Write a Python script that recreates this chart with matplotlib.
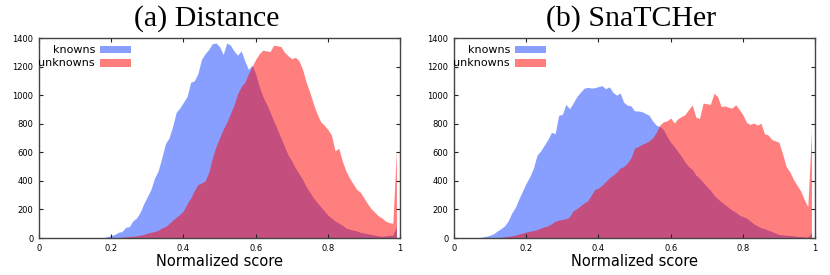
import numpy as np
import matplotlib
matplotlib.use("Agg")
import matplotlib.pyplot as plt
from matplotlib.patches import Rectangle

###################
# Histogram data  #
###################
bins = np.round(np.arange(100) * 0.01, 2)  # left edge of each 0.01 score bin

# (a) Distance
dist_known = [0] * 18 + [
    3, 10, 18, 25, 40, 45, 75, 80, 120, 140,            # 0.18 - 0.27
    180, 240, 290, 340, 420, 470, 560, 660, 700, 780,   # 0.28 - 0.37
    880, 910, 950, 990, 1090, 1100, 1150, 1250, 1290, 1320,
    1360, 1365, 1340, 1285, 1365, 1350, 1310, 1280, 1310, 1240,
    1180, 1210, 1150, 1060, 990, 940, 880, 820, 760, 700,
    640, 580, 540, 490, 450, 410, 360, 320, 280, 250,
    220, 190, 160, 140, 120, 105, 90, 70, 62, 55,
    50, 40, 36, 30, 25, 20, 15, 12, 15, 18,
    20, 80,
]
dist_unknown = [0] * 22 + [
    3, 5, 8, 10, 12, 15, 20, 25, 35, 40,                # 0.22 - 0.31
    45, 55, 70, 80, 100, 125, 145, 165, 190, 240,
    280, 330, 375, 385, 400, 460, 560, 640, 700, 760,
    810, 870, 930, 1010, 1060, 1090, 1150, 1200, 1250, 1290,
    1315, 1310, 1305, 1350, 1345, 1340, 1300, 1275, 1255, 1265,
    1240, 1180, 1090, 1020, 940, 870, 814, 790, 760, 720,
    610, 628, 540, 470, 420, 380, 340, 320, 280, 240,
    205, 180, 155, 140, 118, 108, 103, 620,
]

# (b) SnaTCHer
snat_known = [0] * 7 + [
    3, 8, 12, 20, 30, 50, 65, 85, 120, 175,             # 0.07 - 0.16
    215, 275, 330, 385, 430, 490, 580, 610, 650, 690,
    740, 730, 860, 865, 935, 905, 945, 990, 1020, 1048,
    1055, 1050, 1052, 1060, 1066, 1045, 1058, 1020, 1000, 1015,
    950, 930, 925, 890, 889, 885, 872, 860, 820, 790,
    780, 760, 710, 670, 640, 605, 570, 530, 500, 480,
    440, 418, 390, 360, 335, 300, 275, 254, 235, 215,
    195, 180, 161, 150, 140, 120, 100, 85, 72, 65,
    55, 45, 35, 25, 22, 20, 18, 15, 12, 10,
    8, 5, 40,
]
snat_unknown = [0] * 13 + [
    5, 8, 12, 15, 20, 28, 35, 42, 48, 52,               # 0.13 - 0.22
    58, 70, 78, 85, 100, 118, 125, 130, 135, 149,
    190, 205, 225, 245, 260, 300, 340, 350, 370, 395,
    420, 440, 460, 490, 500, 525, 560, 630, 640, 655,
    665, 680, 700, 740, 790, 814, 820, 840, 805, 835,
    850, 865, 900, 931, 845, 838, 945, 940, 935, 1013,
    990, 920, 925, 915, 910, 933, 900, 863, 810, 795,
    805, 790, 803, 730, 721, 690, 680, 670, 590, 500,
    464, 410, 370, 330, 270, 219, 750,
]

panels = [
    ("(a) Distance", dist_known, dist_unknown),
    ("(b) SnaTCHer", snat_known, snat_unknown),
]

known_color = "#1541ff"
unknown_color = "#ff0000"

fig = plt.figure(figsize=(8.3, 2.75), dpi=100)
lefts = [0.047, 0.547]
title_x = [0.249, 0.760]

for left, tx, (title, known, unknown) in zip(lefts, title_x, panels):
    ax = fig.add_axes([left, 0.1345, 0.435, 0.7273])
    ax.fill_between(bins, known, color=known_color, alpha=0.5, linewidth=0)
    ax.fill_between(bins, unknown, color=unknown_color, alpha=0.5, linewidth=0)

    ax.set_xlim(0, 1)
    ax.set_ylim(0, 1400)
    ax.set_xticks([0, 0.2, 0.4, 0.6, 0.8, 1])
    ax.set_xticklabels(["0", "0.2", "0.4", "0.6", "0.8", "1"])
    ax.set_yticks(range(0, 1401, 200))
    ax.tick_params(direction="in", length=3, width=0.8, labelsize=6,
                   top=True, right=True, color="#222222", pad=4)
    for s in ax.spines.values():
        s.set_color("#444444")
        s.set_linewidth(1.0)
    ax.set_xlabel("Normalized score", fontsize=10.5, labelpad=1)

    # legend: labels right-aligned in front of the swatches
    for row, (label, col) in enumerate([("knowns", known_color), ("unknowns", unknown_color)]):
        yc = 0.9425 - row * 0.0675
        ax.text(0.155, yc, label, transform=ax.transAxes, ha="right", va="center", fontsize=8)
        ax.add_patch(Rectangle((0.169, yc - 0.018), 0.086, 0.036, transform=ax.transAxes,
                               facecolor=col, alpha=0.5, linewidth=0))

    fig.text(tx, 0.932, title, ha="center", va="center",
             fontsize=21.5, family="Liberation Serif")

fig.savefig("out.png", dpi=100)
